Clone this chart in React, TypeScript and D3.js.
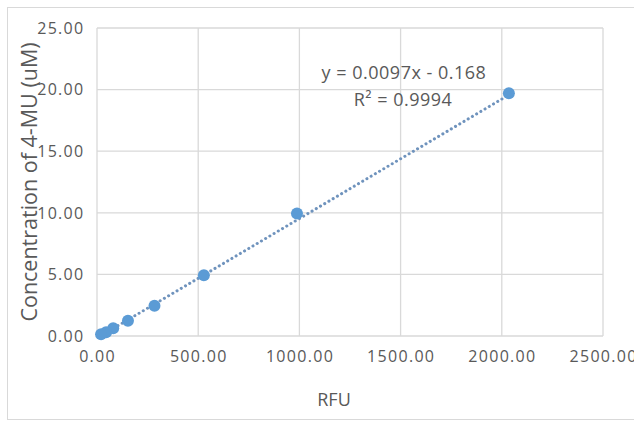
import React from "react";
import * as d3 from "d3";

const rfu = [2035, 988, 528, 284, 153, 80, 45, 20];
const conc = [19.7, 9.95, 4.93, 2.46, 1.23, 0.62, 0.31, 0.15];
const xTicks = [0, 500, 1000, 1500, 2000, 2500];
const yTicks = [0, 5, 10, 15, 20, 25];
const slope = 0.0097;
const intercept = -0.168;
const eqLabel = "y = 0.0097x - 0.168";
const r2Label = "R² = 0.9994";
const xTitle = "RFU";
const yTitle = "Concentration of 4-MU (uM)";

const W = 634;
const H = 423;
const FONT = "'Open Sans', sans-serif";

export default function App() {
  const x = d3.scaleLinear().domain([0, 2500]).range([97, 603]);
  const y = d3.scaleLinear().domain([0, 25]).range([336, 28]);
  const grid = "#d9d9d9";
  const txt = "#595959";
  const blue = "#5B9BD5";
  const xMin = d3.min(rfu) as number;
  const xMax = d3.max(rfu) as number;
  const trend = d3
    .line<number>()
    .x((d) => x(d))
    .y((d) => y(slope * d + intercept))([xMin, xMax]);

  return (
    <svg
      width={W}
      height={H}
      style={{ position: "absolute", left: 0, top: 0, background: "#fff" }}
      fontFamily={FONT}
    >
      <rect x={0} y={0} width={W} height={H} fill="#fff" />
      <rect x={7.5} y={7.5} width={700} height={412} fill="none" stroke={grid} strokeWidth={1} />
      {yTicks.map((t) => (
        <line key={"gy" + t} x1={x(0)} x2={x(2500)} y1={y(t)} y2={y(t)} stroke={grid} strokeWidth={1.3} />
      ))}
      {xTicks.map((t) => (
        <line key={"gx" + t} x1={x(t)} x2={x(t)} y1={y(0)} y2={y(25)} stroke={grid} strokeWidth={1.3} />
      ))}
      {yTicks.map((t) => (
        <text key={"ty" + t} x={84.5} y={y(t)} dy="0.36em" textAnchor="end" fontSize={16} letterSpacing={1.3} fill={txt}>
          {t.toFixed(2)}
        </text>
      ))}
      {xTicks.map((t) => (
        <text key={"tx" + t} x={x(t) + 0.6} y={362} textAnchor="middle" fontSize={16} letterSpacing={1.3} fill={txt}>
          {t.toFixed(2)}
        </text>
      ))}
      <path
        d={trend || ""}
        fill="none"
        stroke="#6f93bd"
        strokeWidth={3}
        strokeDasharray="0.1 4.8"
        strokeLinecap="round"
      />
      {rfu.map((v, i) => (
        <circle key={"p" + i} cx={x(v)} cy={y(conc[i])} r={6} fill={blue} />
      ))}
      <text x={404} y={79} textAnchor="middle" fontSize={18} letterSpacing={0.5} fill={txt}>
        {eqLabel}
      </text>
      <text x={403} y={106} textAnchor="middle" fontSize={18} letterSpacing={0.5} fill={txt}>
        {r2Label}
      </text>
      <text x={334} y={406} textAnchor="middle" fontSize={18} fill={txt}>
        {xTitle}
      </text>
      <text
        transform={`translate(37,182) rotate(-90)`}
        textAnchor="middle"
        fontSize={21.5}
        fill={txt}
      >
        {yTitle}
      </text>
    </svg>
  );
}
